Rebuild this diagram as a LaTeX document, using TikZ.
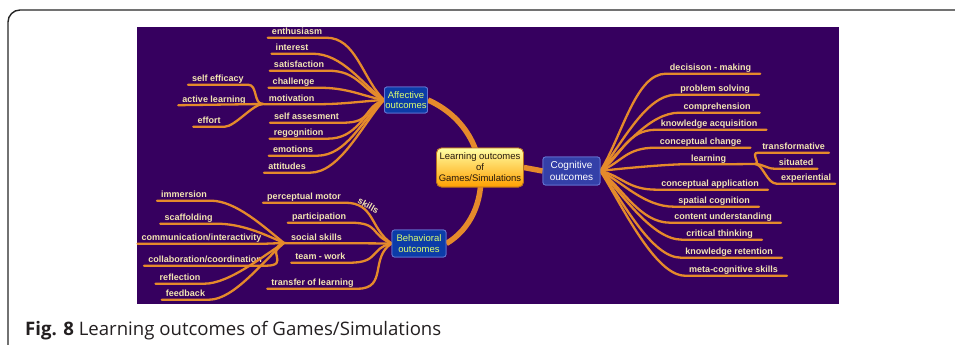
\documentclass[tikz,border=0pt]{standalone}
\usepackage{fontspec}
\setmainfont{Open Sans}
\newfontfamily\leaffont{Liberation Sans}
\definecolor{bgpurple}{HTML}{36005F}
\definecolor{brcol}{HTML}{E58A2B}
\definecolor{leafcol}{HTML}{F3E6B2}
\definecolor{boxblue}{HTML}{0C3CA8}
\definecolor{boxedge}{HTML}{6675D4}
\definecolor{cogblue}{HTML}{3440A8}
\definecolor{boxtext}{HTML}{DDFF70}
\definecolor{captext}{HTML}{231F20}
\tikzset{
  leaf/.style={font=\leaffont\bfseries\fontsize{9}{10}\selectfont, text=leafcol,
    inner xsep=4pt, inner ysep=1pt, text height=7pt, text depth=2pt},
  br/.style={draw=brcol, line width=2.3pt, line cap=round},
  mainbr/.style={draw=brcol, line width=5.5pt},
  outbox/.style={fill=boxblue, draw=boxedge, line width=0.8pt, rounded corners=2.5pt,
    text=boxtext, font=\leaffont\fontsize{9.5}{10.5}\selectfont, align=center, inner sep=1pt},
  centbox/.style={draw=brcol!80!black, line width=0.8pt, rounded corners=5pt,
    top color=yellow!35!white, bottom color=orange!75!yellow, text=black!80!brown,
    font=\leaffont\fontsize{9.5}{11}\selectfont, align=center, inner sep=1pt,
    minimum width=87pt, minimum height=39pt}
}
\begin{document}
\begin{tikzpicture}[x=1pt,y=-1pt]
\useasboundingbox (0,0) rectangle (955,345);
% frame
\draw[line width=1.4pt, draw=black!85, rounded corners=12pt] (8,346) -- (8,10) -- (956,10);
% picture background
\fill[bgpurple] (137,27) rectangle (839,304);

% main boxes
\node[centbox] (cent) at (480,167.5) {Learning outcomes\\of\\Games/Simulations};
\node[outbox, minimum width=43pt, minimum height=26pt] (aff) at (406,100) {Affective\\outcomes};
\node[outbox, minimum width=54pt, minimum height=27pt] (beh) at (419,243.5) {Behavioral\\outcomes};
\node[outbox, fill=cogblue, text=white, font=\leaffont\fontsize{10}{12}\selectfont, minimum width=57pt, minimum height=28pt] (cog) at (571.5,171) {Cognitive\\outcomes};

% affective leaves
\node[leaf] (enth) at (297,32) {enthusiasm};
\node[leaf] (inte) at (292,48) {interest};
\node[leaf] (sati) at (299,65) {satisfaction};
\node[leaf] (chal) at (293.5,82) {challenge};
\node[leaf] (moti) at (291.5,98.5) {motivation};
\node[leaf] (sass) at (306.5,117) {self assesment};
\node[leaf] (regn) at (298.5,133) {regognition};
\node[leaf] (emot) at (293,150) {emotions};
\node[leaf] (atti) at (287,167) {attitudes};
\node[leaf] (seff) at (218,79) {self efficacy};
\node[leaf] (actl) at (214,99.5) {active learning};
\node[leaf] (effo) at (209,121) {effort};
\coordinate (afork) at (263,104);

% behavioral leaves
\node[leaf] (perc) at (304,197) {perceptual motor};
\node[leaf, rotate=-30, inner sep=0pt, text height=6pt, text depth=1pt] (pskl) at (368,206) {skills};
\node[leaf] (part) at (319,217) {participation};
\node[leaf] (socs) at (316.5,237.5) {social skills};
\node[leaf] (team) at (320.5,257) {team - work};
\node[leaf] (tran) at (312.5,283) {transfer of learning};
\node[leaf] (imme) at (184,195) {immersion};
\node[leaf] (scaf) at (188.5,218) {scaffolding};
\node[leaf] (comm) at (201.5,238) {communication/interactivity};
\node[leaf] (coll) at (205,260) {collaboration/coordination};
\node[leaf] (refl) at (180,278) {reflection};
\node[leaf] (feed) at (185.5,294) {feedback};
\coordinate (bfork) at (284,243);

% cognitive leaves
\node[leaf] (deci) at (710.5,68) {decisison - making};
\node[leaf] (prob) at (715,89) {problem solving};
\node[leaf] (comp) at (717,107) {comprehension};
\node[leaf] (know) at (709,124) {knowledge acquisition};
\node[leaf] (conc) at (700.5,142) {conceptual change};
\node[leaf] (lear) at (708.5,158.5) {learning};
\node[leaf] (tfor) at (793.5,147) {transformative};
\node[leaf] (situ) at (796,163) {situated};
\node[leaf] (expe) at (806,178) {experiential};
\node[leaf] (capp) at (710,184) {conceptual application};
\node[leaf] (spat) at (714,201) {spatial cognition};
\node[leaf] (cont) at (723,217) {content understanding};
\node[leaf] (crit) at (719.5,234) {critical thinking};
\node[leaf] (kret) at (729,252) {knowledge retention};
\node[leaf] (meta) at (733.5,270) {meta-cognitive skills};
\coordinate (cfork) at (755,164);

% main connectors
\draw[mainbr] (aff.east) .. controls (495,130) and (495,215) .. (beh.east);
\draw[mainbr] (cent.east) -- (cog.west);

% affective
\foreach \n/\k in {enth/-22,inte/-16,sati/-10,chal/-4,sass/8,regn/13,emot/19,atti/25}{
  \draw[br] (aff.west) .. controls +(-22,\k) and +(30,0) .. (\n.south east) -- (\n.south west);
}
\draw[br] (aff.west) .. controls +(-20,1) and +(25,0) .. (moti.south east) -- (moti.south west) -- (afork) -- (actl.south west);
\draw[br] (afork) .. controls +(-10,0) and +(10,0) .. (seff.south east) -- (seff.south west);
\draw[br] (afork) .. controls +(-10,0) and +(10,0) .. (effo.south east) -- (effo.south west);

% behavioral
\foreach \n/\k in {perc/-15,part/-9,team/5,tran/14}{
  \draw[br] (beh.west) .. controls +(-22,\k) and +(30,0) .. (\n.south east) -- (\n.south west);
}
\draw[br] (beh.west) -- (socs.south east) -- (socs.south west) -- (bfork);
\foreach \n/\k in {imme/-16,scaf/-9,coll/6,refl/12,feed/17}{
  \draw[br] (bfork) .. controls +(-20,\k) and +(25,0) .. (\n.south east) -- (\n.south west);
}
\draw[br] (bfork) -- (comm.south east) -- (comm.south west);

% cognitive
\foreach \n/\k in {deci/-36,prob/-28,comp/-22,know/-16,conc/-9,capp/5,spat/11,cont/17,crit/23,kret/29,meta/35}{
  \draw[br] (cog.east) .. controls +(22,\k) and +(-30,0) .. (\n.south west) -- ([xshift=5pt]\n.south east);
}
\draw[br] (cog.east) .. controls +(15,-2) and +(-20,0) .. (lear.south west) -- (lear.south east) -- (cfork);
\draw[br] (cfork) .. controls +(6,0) and +(-8,0) .. (tfor.south west) -- (tfor.south east);
\draw[br] (cfork) .. controls +(8,0) and +(-8,0) .. (situ.south west) -- (situ.south east);
\draw[br] (cfork) .. controls +(8,0) and +(-10,0) .. (expe.south west) -- (expe.south east);

% redraw boxes on top
\node[centbox] at (cent) {Learning outcomes\\of\\Games/Simulations};
\node[outbox, minimum width=43pt, minimum height=26pt] at (aff) {Affective\\outcomes};
\node[outbox, minimum width=54pt, minimum height=27pt] at (beh) {Behavioral\\outcomes};
\node[outbox, fill=cogblue, text=white, font=\leaffont\fontsize{10}{12}\selectfont, minimum width=57pt, minimum height=28pt] at (cog) {Cognitive\\outcomes};

% caption
\node[anchor=base west, inner sep=0pt, text=captext, font=\fontsize{18.6}{22}\selectfont] (cap) at (25,335) {\textbf{Fig. 8} Learning outcomes of Games/Simulations};
\end{tikzpicture}
\end{document}
